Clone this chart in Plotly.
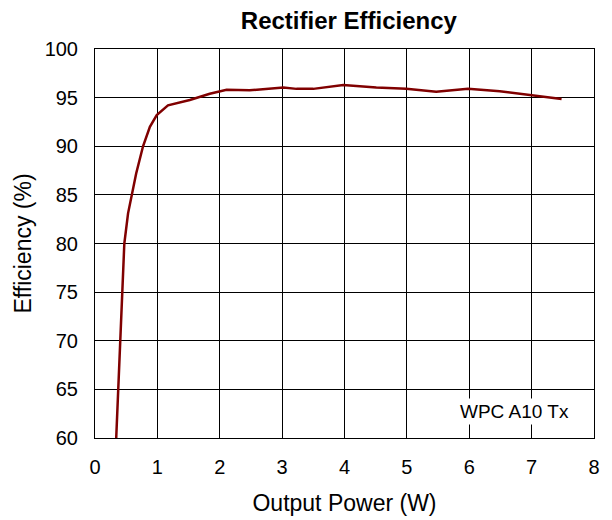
import plotly.graph_objects as go

# Output power (W) and efficiency (%)
power_w = [0.34, 0.37, 0.41, 0.44, 0.45, 0.47, 0.53, 0.59, 0.66, 0.77, 0.88, 0.99,
           1.17, 1.52, 1.84, 2.11, 2.48, 3.02, 3.23, 3.50, 3.98, 4.51, 4.99, 5.47,
           5.98, 6.49, 7.00, 7.48]
efficiency = [60.0, 65.0, 70.0, 75.0, 78.0, 80.0, 83.1, 85.0, 87.2, 90.0, 92.0, 93.2,
              94.2, 94.75, 95.4, 95.8, 95.75, 96.05, 95.9, 95.9, 96.3, 96.05, 95.9, 95.6,
              95.9, 95.65, 95.2, 94.85]

x_ticks = [0, 1, 2, 3, 4, 5, 6, 7, 8]
y_ticks = [60, 65, 70, 75, 80, 85, 90, 95, 100]

FONT = "Liberation Sans, Arial, Helvetica, sans-serif"

fig = go.Figure()
fig.add_trace(
    go.Scatter(
        x=power_w, y=efficiency, mode="lines",
        line=dict(color="#800000", width=2.5),
        showlegend=False,
    )
)

axis_style = dict(
    showgrid=True, gridcolor="black", gridwidth=1,
    showline=True, linecolor="black", linewidth=1, mirror=True,
    ticks="", zeroline=False,
    tickfont=dict(family=FONT, size=20, color="black"),
)

fig.update_xaxes(
    range=[0, 8], tickvals=x_ticks, ticklabelstandoff=11,
    title=dict(text="Output Power (W)", font=dict(family=FONT, size=23, color="black"), standoff=17),
    **axis_style,
)
fig.update_yaxes(
    range=[60, 100], tickvals=y_ticks, ticklabelstandoff=12,
    title=dict(text="Efficiency (%)", font=dict(family=FONT, size=23, color="black"), standoff=6),
    **axis_style,
)

fig.add_annotation(
    text="WPC A10 Tx", x=0.955, y=0.069, xref="paper", yref="paper",
    xanchor="right", yanchor="middle", showarrow=False,
    font=dict(family=FONT, size=19, color="black"),
    bgcolor="white", borderpad=2,
)

fig.update_layout(
    title=dict(text="<b>Rectifier Efficiency</b>", x=0.557, xanchor="center", y=0.992, yanchor="top",
               pad=dict(t=0), font=dict(family=FONT, size=24, color="black")),
    width=612, height=520,
    plot_bgcolor="white", paper_bgcolor="white",
    margin=dict(l=87, r=26, t=41, b=90),
)

fig.write_html("out.html")
